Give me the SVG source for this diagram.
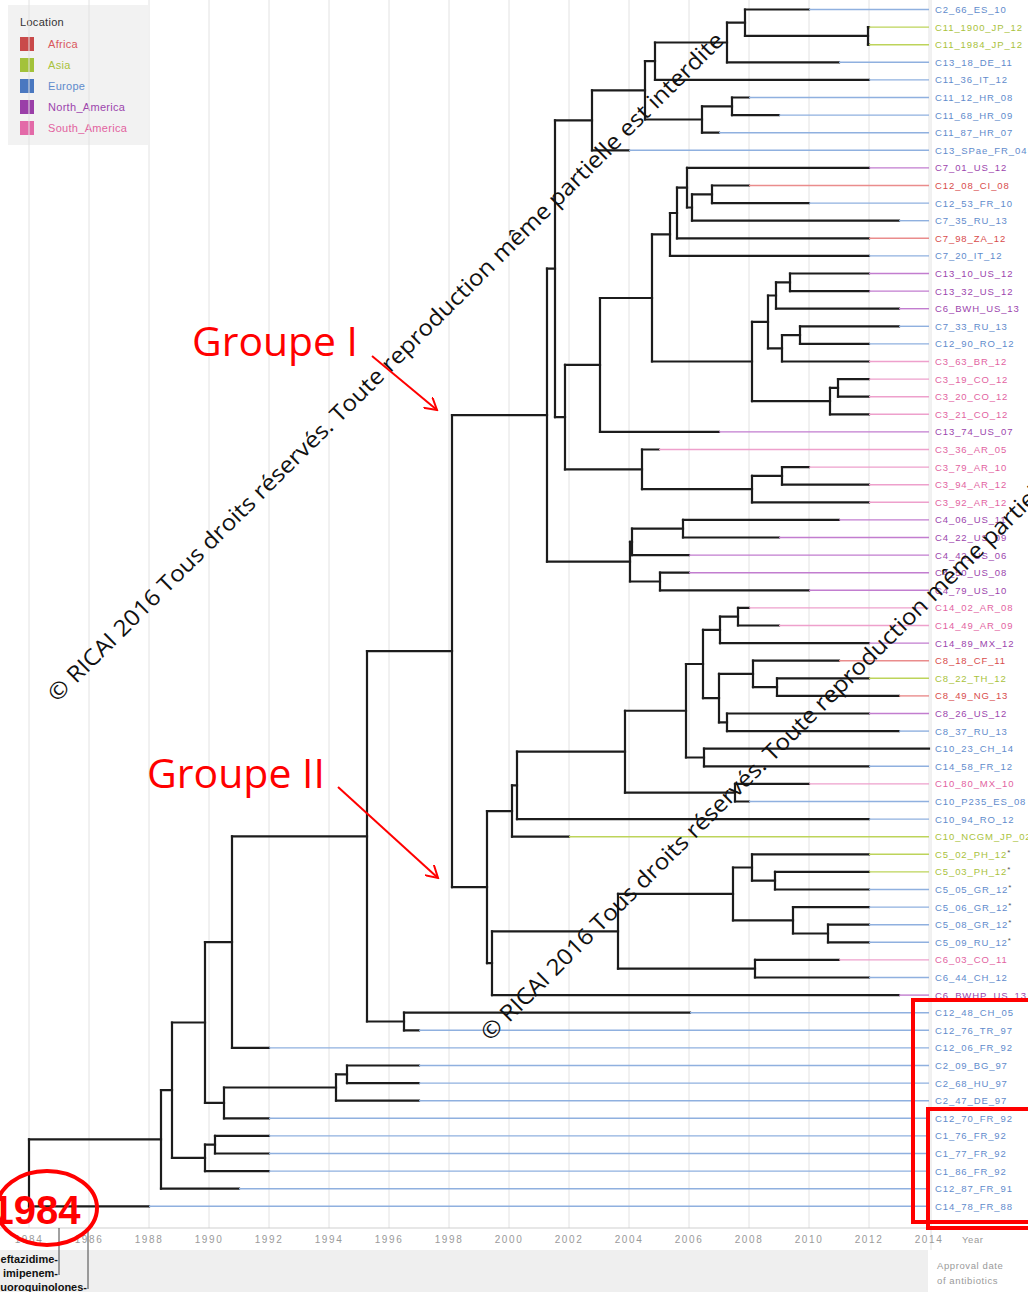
<svg xmlns="http://www.w3.org/2000/svg" width="1028" height="1292" viewBox="0 0 1028 1292">
<style>
.bg{fill:#ffffff}
.grid{stroke:#e2e2e2;stroke-width:1;fill:none}
.br{stroke:#1c1c1c;stroke-width:2.2;fill:none;stroke-linecap:square}
.tl{stroke-width:1.4;fill:none}
.lab{font-family:"Liberation Sans",Arial,sans-serif;font-size:9.5px;letter-spacing:0.9px}
.eu .tl{stroke:#8fb0df}.eu text{fill:#5f8bcc}
.as .tl{stroke:#bdd45a}.as text{fill:#a9c23c}
.af .tl{stroke:#ea8c8c}.af text{fill:#d84c4c}
.na .tl{stroke:#c27dcf}.na text{fill:#9c45ad}
.sa .tl{stroke:#eea0cc}.sa text{fill:#e2639f}
.ast{fill:#555;font-size:8px}
.ax{font-family:"Liberation Sans",Arial,sans-serif;font-size:10px;fill:#9a9a9a;letter-spacing:1.6px;text-anchor:middle}
.leg{font-family:"Liberation Sans",Arial,sans-serif;font-size:11px;letter-spacing:0.3px}
.wm{font-family:"Open Sans","Liberation Sans",sans-serif;font-size:22.5px;fill:#111}
.red{stroke:#ff0000;fill:none}
.grp{font-family:"Open Sans","Liberation Sans",sans-serif;font-size:40px;fill:#ff0000}
.drug{font-family:"Liberation Sans",Arial,sans-serif;font-size:11px;font-weight:bold;fill:#111;text-anchor:end}
.small{font-family:"Liberation Sans",Arial,sans-serif;font-size:9.5px;fill:#9a9a9a;letter-spacing:0.6px}
</style>
<defs>
<marker id="arr" markerWidth="14" markerHeight="14" refX="12" refY="7" orient="auto" markerUnits="userSpaceOnUse">
<path d="M0,0 L12,7 L0,14" fill="none" stroke="#ff0000" stroke-width="2"/>
</marker>
</defs>
<rect class="bg" x="0" y="0" width="1028" height="1292"/>
<g id="legend">
<rect x="8" y="5" width="140" height="140" fill="#f2f2f2"/>
<text class="leg" x="20" y="26" fill="#333">Location</text>
<rect x="20" y="37" width="14" height="14" fill="#c94a4a"/><text class="leg" x="48" y="48" fill="#d9575c">Africa</text>
<rect x="20" y="58" width="14" height="14" fill="#a3c23a"/><text class="leg" x="48" y="69" fill="#a9c23c">Asia</text>
<rect x="20" y="79" width="14" height="14" fill="#4a78c0"/><text class="leg" x="48" y="90" fill="#5f8bcc">Europe</text>
<rect x="20" y="100" width="14" height="14" fill="#9a3fa8"/><text class="leg" x="48" y="111" fill="#9c45ad">North_America</text>
<rect x="20" y="121" width="14" height="14" fill="#e36aa8"/><text class="leg" x="48" y="132" fill="#e2639f">South_America</text>
</g>
<g id="grid">
<path class="grid" d="M29,0V1228M89,0V1228M149,0V1228M209,0V1228M269,0V1228M329,0V1228M389,0V1228M449,0V1228M509,0V1228M569,0V1228M629,0V1228M689,0V1228M749,0V1228M809,0V1228M869,0V1228M929,0V1228M931,0V1250"/>
<path d="M0,1228H929" stroke="#cfcfcf" stroke-width="1"/>
</g>
<g id="axis">
<rect x="0" y="1250" width="928" height="42" fill="#efefef"/>
<text class="ax" x="29" y="1243">1984</text><text class="ax" x="89" y="1243">1986</text><text class="ax" x="149" y="1243">1988</text><text class="ax" x="209" y="1243">1990</text><text class="ax" x="269" y="1243">1992</text><text class="ax" x="329" y="1243">1994</text><text class="ax" x="389" y="1243">1996</text><text class="ax" x="449" y="1243">1998</text><text class="ax" x="509" y="1243">2000</text><text class="ax" x="569" y="1243">2002</text><text class="ax" x="629" y="1243">2004</text><text class="ax" x="689" y="1243">2006</text><text class="ax" x="749" y="1243">2008</text><text class="ax" x="809" y="1243">2010</text><text class="ax" x="869" y="1243">2012</text><text class="ax" x="929" y="1243">2014</text>
<text class="small" x="962" y="1243">Year</text>
<text class="small" x="937" y="1269">Approval date</text>
<text class="small" x="937" y="1284">of antibiotics</text>
<path d="M59,1228V1275M88,1228V1289" stroke="#444" stroke-width="1" fill="none"/>
<text class="drug" x="58" y="1263">eftazidime-</text>
<text class="drug" x="58" y="1277">imipenem-</text>
<text class="drug" x="87" y="1291">uoroquinolones-</text>
</g>
<g id="connectors">
<path class="br" d="M868,27.1V44.7M745,9.5V35.9M727,22.7V62.3M655,42.5V79.9M732,97.5V115.1M702,106.3V132.7M645,61.2V119.5M592,90.35V150.3M712,185.5V203.1M692,194.3V220.7M687,167.9V207.5M677,187.7V238.3M670,213V255.9M790,273.5V291.1M776,282.3V308.7M800,326.3V343.9M782,335.1V361.5M768,295.5V348.3M838,379.1V396.7M830,387.9V414.3M752,321.9V401.1M652,234.45V361.5M600,298V431.9M782,467.1V484.7M752,475.9V502.3M642,449.5V489.1M565,364.95V469.3M555,120.3V417.1M683,519.9V537.5M632,528.7V555.1M660,572.7V590.3M630,541.9V581.5M547,268.7V561.7M738,607.9V625.5M720,616.7V643.1M777,678.3V695.9M753,660.7V687.1M727,713.5V731.1M719,673.9V722.3M703,629.9V698.1M704,748.7V766.3M686,664V757.5M735,783.9V801.5M625,710.75V792.7M517,751.7V819.1M512,785.4V836.7M775,871.9V889.5M752,854.3V880.7M828,924.7V942.3M793,907.1V933.5M733,867.5V920.3M755,959.9V977.5M618,893.9V968.7M492,931.3V995.1M487,811.05V963.2M452,415.2V887.1M404,1012.7V1030.3M367,651.15V1021.5M232,836.3V1047.9M347,1065.5V1083.1M336,1074.3V1100.7M224,1087.5V1118.3M205,942.1V1102.9M215,1135.9V1153.5M205,1144.7V1171.1M172,1022.5V1157.9M161,1090.2V1188.7M29,1139.45V1206.3"/>
<path class="br" d="M745,35.9H868M727,22.7H745M655,42.5H727M645,61.2H655M702,106.3H732M645,119.5H702M592,90.35H645M555,120.3H592M692,194.3H712M687,207.5H692M677,187.7H687M670,213H677M652,234.45H670M776,282.3H790M768,295.5H776M782,335.1H800M768,348.3H782M752,321.9H768M830,387.9H838M752,401.1H830M652,361.5H752M600,298H652M565,364.95H600M752,475.9H782M642,489.1H752M565,469.3H642M555,417.1H565M547,268.7H555M632,528.7H683M630,541.9H632M630,581.5H660M547,561.7H630M452,415.2H547M720,616.7H738M703,629.9H720M753,687.1H777M719,673.9H753M719,722.3H727M703,698.1H719M686,664H703M686,757.5H704M625,710.75H686M625,792.7H735M517,751.7H625M512,785.4H517M487,811.05H512M752,880.7H775M733,867.5H752M793,933.5H828M733,920.3H793M618,893.9H733M618,968.7H755M492,931.3H618M487,963.2H492M452,887.1H487M367,651.15H452M367,1021.5H404M232,836.3H367M205,942.1H232M336,1074.3H347M224,1087.5H336M205,1102.9H224M172,1022.5H205M205,1144.7H215M172,1157.9H205M161,1090.2H172M29,1139.45H161"/>
<path class="br" d="M745,9.5H809M868,27.1H869M868,44.7H869M727,62.3H839M655,79.9H869M732,97.5H749M732,115.1H779M702,132.7H719M592,150.3H629M687,167.9H869M712,185.5H749M712,203.1H809M692,220.7H899M677,238.3H869M670,255.9H869M790,273.5H869M790,291.1H869M776,308.7H899M800,326.3H899M800,343.9H869M782,361.5H869M838,379.1H869M838,396.7H869M830,414.3H869M600,431.9H719M642,449.5H659M782,467.1H809M782,484.7H869M752,502.3H869M683,519.9H839M683,537.5H779M632,555.1H689M660,572.7H689M660,590.3H809M738,607.9H749M738,625.5H779M720,643.1H869M753,660.7H839M777,678.3H869M777,695.9H899M727,713.5H869M727,731.1H899M704,748.7H929M704,766.3H869M735,783.9H809M735,801.5H749M517,819.1H869M512,836.7H569M752,854.3H869M775,871.9H869M775,889.5H869M793,907.1H869M828,924.7H869M828,942.3H869M755,959.9H839M755,977.5H869M492,995.1H899M404,1012.7H690M404,1030.3H419M232,1047.9H269M347,1065.5H419M347,1083.1H419M336,1100.7H419M224,1118.3H269M215,1135.9H269M215,1153.5H269M205,1171.1H269M161,1188.7H239M29,1206.3H149"/>
</g>
<g class="lab">
<g id="tip-0" class="eu"><path class="tl" d="M809,9.5H929"/><text x="935" y="13">C2_66_ES_10</text></g>
<g id="tip-1" class="as"><path class="tl" d="M869,27.1H929"/><text x="935" y="30.6">C11_1900_JP_12</text></g>
<g id="tip-2" class="as"><path class="tl" d="M869,44.7H929"/><text x="935" y="48.2">C11_1984_JP_12</text></g>
<g id="tip-3" class="eu"><path class="tl" d="M839,62.3H929"/><text x="935" y="65.8">C13_18_DE_11</text></g>
<g id="tip-4" class="eu"><path class="tl" d="M869,79.9H929"/><text x="935" y="83.4">C11_36_IT_12</text></g>
<g id="tip-5" class="eu"><path class="tl" d="M749,97.5H929"/><text x="935" y="101">C11_12_HR_08</text></g>
<g id="tip-6" class="eu"><path class="tl" d="M779,115.1H929"/><text x="935" y="118.6">C11_68_HR_09</text></g>
<g id="tip-7" class="eu"><path class="tl" d="M719,132.7H929"/><text x="935" y="136.2">C11_87_HR_07</text></g>
<g id="tip-8" class="eu"><path class="tl" d="M629,150.3H929"/><text x="935" y="153.8">C13_SPae_FR_04</text></g>
<g id="tip-9" class="na"><path class="tl" d="M869,167.9H929"/><text x="935" y="171.4">C7_01_US_12</text></g>
<g id="tip-10" class="af"><path class="tl" d="M749,185.5H929"/><text x="935" y="189">C12_08_CI_08</text></g>
<g id="tip-11" class="eu"><path class="tl" d="M809,203.1H929"/><text x="935" y="206.6">C12_53_FR_10</text></g>
<g id="tip-12" class="eu"><path class="tl" d="M899,220.7H929"/><text x="935" y="224.2">C7_35_RU_13</text></g>
<g id="tip-13" class="af"><path class="tl" d="M869,238.3H929"/><text x="935" y="241.8">C7_98_ZA_12</text></g>
<g id="tip-14" class="eu"><path class="tl" d="M869,255.9H929"/><text x="935" y="259.4">C7_20_IT_12</text></g>
<g id="tip-15" class="na"><path class="tl" d="M869,273.5H929"/><text x="935" y="277">C13_10_US_12</text></g>
<g id="tip-16" class="na"><path class="tl" d="M869,291.1H929"/><text x="935" y="294.6">C13_32_US_12</text></g>
<g id="tip-17" class="na"><path class="tl" d="M899,308.7H929"/><text x="935" y="312.2">C6_BWH_US_13</text></g>
<g id="tip-18" class="eu"><path class="tl" d="M899,326.3H929"/><text x="935" y="329.8">C7_33_RU_13</text></g>
<g id="tip-19" class="eu"><path class="tl" d="M869,343.9H929"/><text x="935" y="347.4">C12_90_RO_12</text></g>
<g id="tip-20" class="sa"><path class="tl" d="M869,361.5H929"/><text x="935" y="365">C3_63_BR_12</text></g>
<g id="tip-21" class="sa"><path class="tl" d="M869,379.1H929"/><text x="935" y="382.6">C3_19_CO_12</text></g>
<g id="tip-22" class="sa"><path class="tl" d="M869,396.7H929"/><text x="935" y="400.2">C3_20_CO_12</text></g>
<g id="tip-23" class="sa"><path class="tl" d="M869,414.3H929"/><text x="935" y="417.8">C3_21_CO_12</text></g>
<g id="tip-24" class="na"><path class="tl" d="M719,431.9H929"/><text x="935" y="435.4">C13_74_US_07</text></g>
<g id="tip-25" class="sa"><path class="tl" d="M659,449.5H929"/><text x="935" y="453">C3_36_AR_05</text></g>
<g id="tip-26" class="sa"><path class="tl" d="M809,467.1H929"/><text x="935" y="470.6">C3_79_AR_10</text></g>
<g id="tip-27" class="sa"><path class="tl" d="M869,484.7H929"/><text x="935" y="488.2">C3_94_AR_12</text></g>
<g id="tip-28" class="sa"><path class="tl" d="M869,502.3H929"/><text x="935" y="505.8">C3_92_AR_12</text></g>
<g id="tip-29" class="na"><path class="tl" d="M839,519.9H929"/><text x="935" y="523.4">C4_06_US_11</text></g>
<g id="tip-30" class="na"><path class="tl" d="M779,537.5H929"/><text x="935" y="541">C4_22_US_09</text></g>
<g id="tip-31" class="na"><path class="tl" d="M689,555.1H929"/><text x="935" y="558.6">C4_42_US_06</text></g>
<g id="tip-32" class="na"><path class="tl" d="M689,572.7H929"/><text x="935" y="576.2">C4_50_US_08</text></g>
<g id="tip-33" class="na"><path class="tl" d="M809,590.3H929"/><text x="935" y="593.8">C4_79_US_10</text></g>
<g id="tip-34" class="sa"><path class="tl" d="M749,607.9H929"/><text x="935" y="611.4">C14_02_AR_08</text></g>
<g id="tip-35" class="sa"><path class="tl" d="M779,625.5H929"/><text x="935" y="629">C14_49_AR_09</text></g>
<g id="tip-36" class="na"><path class="tl" d="M869,643.1H929"/><text x="935" y="646.6">C14_89_MX_12</text></g>
<g id="tip-37" class="af"><path class="tl" d="M839,660.7H929"/><text x="935" y="664.2">C8_18_CF_11</text></g>
<g id="tip-38" class="as"><path class="tl" d="M869,678.3H929"/><text x="935" y="681.8">C8_22_TH_12</text></g>
<g id="tip-39" class="af"><path class="tl" d="M899,695.9H929"/><text x="935" y="699.4">C8_49_NG_13</text></g>
<g id="tip-40" class="na"><path class="tl" d="M869,713.5H929"/><text x="935" y="717">C8_26_US_12</text></g>
<g id="tip-41" class="eu"><path class="tl" d="M899,731.1H929"/><text x="935" y="734.6">C8_37_RU_13</text></g>
<g id="tip-42" class="eu"><path class="tl" d="M929,748.7H929"/><text x="935" y="752.2">C10_23_CH_14</text></g>
<g id="tip-43" class="eu"><path class="tl" d="M869,766.3H929"/><text x="935" y="769.8">C14_58_FR_12</text></g>
<g id="tip-44" class="sa"><path class="tl" d="M809,783.9H929"/><text x="935" y="787.4">C10_80_MX_10</text></g>
<g id="tip-45" class="eu"><path class="tl" d="M749,801.5H929"/><text x="935" y="805">C10_P235_ES_08</text></g>
<g id="tip-46" class="eu"><path class="tl" d="M869,819.1H929"/><text x="935" y="822.6">C10_94_RO_12</text></g>
<g id="tip-47" class="as"><path class="tl" d="M569,836.7H929"/><text x="935" y="840.2">C10_NCGM_JP_02</text></g>
<g id="tip-48" class="as"><path class="tl" d="M869,854.3H929"/><text x="935" y="857.8">C5_02_PH_12<tspan class="ast" dy="-3">*</tspan></text></g>
<g id="tip-49" class="as"><path class="tl" d="M869,871.9H929"/><text x="935" y="875.4">C5_03_PH_12<tspan class="ast" dy="-3">*</tspan></text></g>
<g id="tip-50" class="eu"><path class="tl" d="M869,889.5H929"/><text x="935" y="893">C5_05_GR_12<tspan class="ast" dy="-3">*</tspan></text></g>
<g id="tip-51" class="eu"><path class="tl" d="M869,907.1H929"/><text x="935" y="910.6">C5_06_GR_12<tspan class="ast" dy="-3">*</tspan></text></g>
<g id="tip-52" class="eu"><path class="tl" d="M869,924.7H929"/><text x="935" y="928.2">C5_08_GR_12<tspan class="ast" dy="-3">*</tspan></text></g>
<g id="tip-53" class="eu"><path class="tl" d="M869,942.3H929"/><text x="935" y="945.8">C5_09_RU_12<tspan class="ast" dy="-3">*</tspan></text></g>
<g id="tip-54" class="sa"><path class="tl" d="M839,959.9H929"/><text x="935" y="963.4">C6_03_CO_11</text></g>
<g id="tip-55" class="eu"><path class="tl" d="M869,977.5H929"/><text x="935" y="981">C6_44_CH_12</text></g>
<g id="tip-56" class="na"><path class="tl" d="M899,995.1H929"/><text x="935" y="998.6">C6_BWHP_US_13</text></g>
<g id="tip-57" class="eu"><path class="tl" d="M690,1012.7H929"/><text x="935" y="1016.2">C12_48_CH_05</text></g>
<g id="tip-58" class="eu"><path class="tl" d="M419,1030.3H929"/><text x="935" y="1033.8">C12_76_TR_97</text></g>
<g id="tip-59" class="eu"><path class="tl" d="M269,1047.9H929"/><text x="935" y="1051.4">C12_06_FR_92</text></g>
<g id="tip-60" class="eu"><path class="tl" d="M419,1065.5H929"/><text x="935" y="1069">C2_09_BG_97</text></g>
<g id="tip-61" class="eu"><path class="tl" d="M419,1083.1H929"/><text x="935" y="1086.6">C2_68_HU_97</text></g>
<g id="tip-62" class="eu"><path class="tl" d="M419,1100.7H929"/><text x="935" y="1104.2">C2_47_DE_97</text></g>
<g id="tip-63" class="eu"><path class="tl" d="M269,1118.3H929"/><text x="935" y="1121.8">C12_70_FR_92</text></g>
<g id="tip-64" class="eu"><path class="tl" d="M269,1135.9H929"/><text x="935" y="1139.4">C1_76_FR_92</text></g>
<g id="tip-65" class="eu"><path class="tl" d="M269,1153.5H929"/><text x="935" y="1157">C1_77_FR_92</text></g>
<g id="tip-66" class="eu"><path class="tl" d="M269,1171.1H929"/><text x="935" y="1174.6">C1_86_FR_92</text></g>
<g id="tip-67" class="eu"><path class="tl" d="M239,1188.7H929"/><text x="935" y="1192.2">C12_87_FR_91</text></g>
<g id="tip-68" class="eu"><path class="tl" d="M149,1206.3H929"/><text x="935" y="1209.8">C14_78_FR_88</text></g>
</g>
<g id="watermarks">
<text class="wm" x="57" y="703" transform="rotate(-44.7 57 703)" textLength="940" lengthAdjust="spacingAndGlyphs">© RICAI 2016 Tous droits réservés. Toute reproduction même partielle est interdite</text>
<text class="wm" x="490" y="1042" transform="rotate(-44.7 490 1042)" textLength="940" lengthAdjust="spacingAndGlyphs">© RICAI 2016 Tous droits réservés. Toute reproduction même partielle est interdite</text>
</g>
<g id="annotations">
<text class="grp" x="192" y="356" textLength="166" lengthAdjust="spacingAndGlyphs">Groupe I</text>
<path class="red" stroke-width="2" d="M372,356L437,410" marker-end="url(#arr)"/>
<text class="grp" x="147" y="788" textLength="178" lengthAdjust="spacingAndGlyphs">Groupe II</text>
<path class="red" stroke-width="2" d="M338,787L438,878" marker-end="url(#arr)"/>
<ellipse class="red" stroke-width="4" cx="47" cy="1208" rx="50" ry="37"/>
<text x="36" y="1224" text-anchor="middle" font-family="Liberation Sans,Arial,sans-serif" font-weight="bold" font-size="40" fill="#ff0000">1984</text>
<rect class="red" stroke-width="4" x="913" y="1000" width="130" height="222"/>
<rect class="red" stroke-width="4" x="928" y="1109" width="120" height="119"/>
</g>
</svg>
